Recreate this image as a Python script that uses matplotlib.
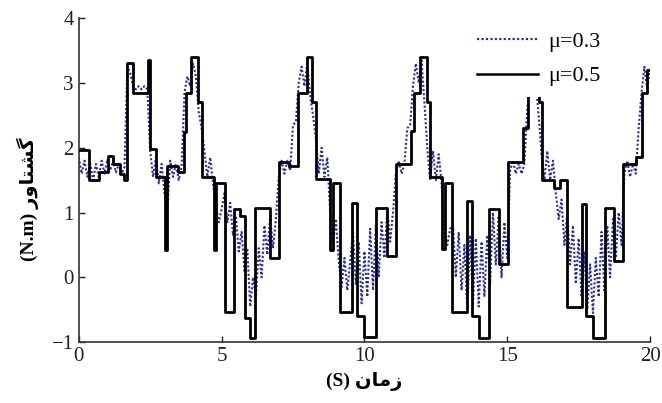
import numpy as np
import matplotlib
matplotlib.use("Agg")
import matplotlib.pyplot as plt
from matplotlib.lines import Line2D

# ── Data ──
# mu = 0.5 (black, step levels)
black_t = [0.00, 0.37, 0.72, 1.02, 1.19, 1.43, 1.60, 1.69, 1.89, 2.42,
           2.50, 2.71, 3.02, 3.10, 3.47, 3.68, 3.76, 3.93, 4.17, 4.31,
           4.73, 4.82, 5.11, 5.45, 5.66, 5.82, 6.00, 6.16, 6.69, 7.02,
           7.35, 7.68, 7.98, 8.18, 8.30, 8.79, 8.90, 9.14, 9.55, 9.75,
           10.00, 10.42, 10.80, 11.10, 11.62, 11.72, 11.96, 12.19, 12.30, 12.71,
           12.82, 13.06, 13.59, 13.77, 14.00, 14.35, 14.70, 15.04, 15.56, 15.74,
           15.95, 16.12, 16.22, 16.65, 16.85, 17.08, 17.61, 17.74, 18.01, 18.42,
           18.75, 19.06, 19.50, 19.71, 19.88, 20.00]
black_y = [1.97, 1.50, 1.62, 1.88, 1.75, 1.60, 1.50, 3.30, 2.85, 3.35,
           1.98, 1.55, 0.42, 1.72, 1.62, 2.25, 2.85, 3.40, 2.70, 1.55,
           0.42, 1.45, -0.53, 1.05, 0.95, -0.62, -0.93, 1.07, 0.30, 1.78,
           1.72, 2.84, 3.40, 2.70, 1.52, 0.42, 1.45, -0.53, 1.15, -0.60,
           -0.92, 1.07, 0.33, 1.75, 2.26, 2.84, 3.40, 2.70, 1.55, 0.43,
           1.45, -0.53, 1.18, -0.60, -0.93, 1.05, 0.20, 1.78, 2.30, 2.85,
           3.40, 2.70, 1.50, 1.38, 1.50, -0.45, 1.13, -0.60, -0.93, 1.07,
           0.25, 1.75, 1.85, 2.84, 3.20, 3.20]

# mu = 0.3 (blue, sampled every 0.1 s)
blue_t = np.round(np.linspace(0, 20, 201), 2)
blue_y = [
    1.85, 1.60, 1.80, 1.55, 1.75, 1.50, 1.75, 1.55, 1.80, 1.60,
    1.82, 1.65, 1.80, 1.62, 1.75, 1.60, 1.70, 3.25, 3.15, 2.95,
    2.90, 2.95, 2.90, 2.95, 2.90, 1.95, 1.55, 1.85, 1.45, 1.75,
    1.30, 1.00, 1.80, 1.55, 1.75, 1.50, 1.70, 2.85, 3.10, 2.95,
    3.30, 3.10, 2.55, 2.30, 1.95, 1.55, 1.85, 1.45, 1.10, 0.85,
    1.05, 1.30, 0.85, 1.15, 0.65, 0.95, 0.40, 0.70, 0.10, 0.45,
    -0.45, 0.00, -0.30, 0.45, 0.00, 0.80, 0.35, 0.95, 0.45, 0.90,
    1.55, 1.80, 1.60, 1.80, 1.65, 2.35, 2.40, 3.00, 3.25, 2.95,
    3.30, 2.80, 2.50, 2.15, 1.60, 2.00, 1.55, 1.85, 1.00, 0.55,
    0.90, 0.25, -0.15, 0.30, -0.20, 0.25, 0.70, -0.10, 0.55, -0.40,
    0.40, -0.30, 0.75, -0.20, 0.80, 0.00, 0.85, 0.30, 1.05, 0.55,
    1.00, 1.60, 1.80, 1.60, 1.75, 2.30, 2.35, 2.95, 3.30, 3.00,
    3.35, 2.70, 2.00, 1.50, 1.95, 1.50, 1.90, 1.45, 0.70, 0.50,
    0.75, 0.80, 0.00, 0.70, -0.20, 0.50, -0.50, 0.65, -0.40, 0.60,
    -0.45, 0.55, -0.30, 0.65, -0.10, 1.00, 0.20, 0.95, 0.00, 0.85,
    0.30, 1.65, 1.80, 1.60, 1.75, 1.60, 1.75, 2.60, 3.00, 3.30,
    3.00, 2.50, 1.90, 1.50, 1.95, 1.50, 1.80, 1.30, 0.90, 1.20,
    0.50, 1.00, 0.20, 0.80, -0.10, 0.60, -0.30, 0.40, -0.50, 0.20,
    -0.55, 0.30, -0.30, 0.70, -0.20, 0.80, 0.00, 0.90, 0.30, 1.00,
    0.50, 1.60, 1.80, 1.55, 1.75, 1.60, 2.30, 2.85, 3.25, 2.90,
    3.25,
]

x_ticks = [0, 5, 10, 15, 20]
y_ticks = [-1, 0, 1, 2, 3, 4]
legend_labels = ["\u03bc=0.3", "\u03bc=0.5"]

# Persian labels (shaped presentation forms, visual order)
x_label = "(S) \ufee5\ufe8e\ufee3\ufeaf"                 # زمان (S)
y_label = "(N.m) \ufead\ufeed\ufe8e\ufe98\ufeb8\ufb94"   # گشتاور (N.m)

BLUE = "#2a2ab0"
SERIF = ["Liberation Serif", "DejaVu Serif"]
MIXED = ["Liberation Serif", "DejaVu Sans"]

fig = plt.figure(figsize=(6.62, 4.03), dpi=100)
ax = fig.add_axes([0.119, 0.151, 0.863, 0.804])

ax.plot(blue_t, blue_y, color=BLUE, lw=1.5, ls=(0, (1, 1)), zorder=2)
ax.step(black_t, black_y, where="post", color="black", lw=2.0, zorder=3)

ax.set_xlim(0, 20)
ax.set_ylim(-1, 4)
ax.set_xticks(x_ticks)
ax.set_yticks(y_ticks)
for s in ("top", "right"):
    ax.spines[s].set_visible(False)
for s in ("left", "bottom"):
    ax.spines[s].set_color("#333333")
    ax.spines[s].set_linewidth(1.2)
ax.tick_params(direction="in", length=4, width=1, labelsize=15, colors="#222222")
for lab in ax.get_xticklabels() + ax.get_yticklabels():
    lab.set_family(SERIF)

ax.set_xlabel(x_label, fontsize=14, fontweight="bold", family=MIXED, labelpad=4)
ax.set_ylabel(y_label, fontsize=14, fontweight="bold", family=MIXED)
ax.yaxis.set_label_coords(-0.07, 0.44)

handles = [Line2D([], [], color=BLUE, lw=1.6, ls=(0, (1, 1))),
           Line2D([], [], color="black", lw=1.8)]
leg = ax.legend(handles, legend_labels, loc="upper left",
                bbox_to_anchor=(0.678, 0.994), borderaxespad=0,
                frameon=True, framealpha=1, facecolor="white",
                edgecolor="none", fancybox=False, borderpad=0.5,
                handlelength=2.75, handletextpad=0.45, labelspacing=0.63,
                prop={"family": SERIF, "size": 16})
leg.set_zorder(5)

fig.savefig("out.png", dpi=100, facecolor="white")
